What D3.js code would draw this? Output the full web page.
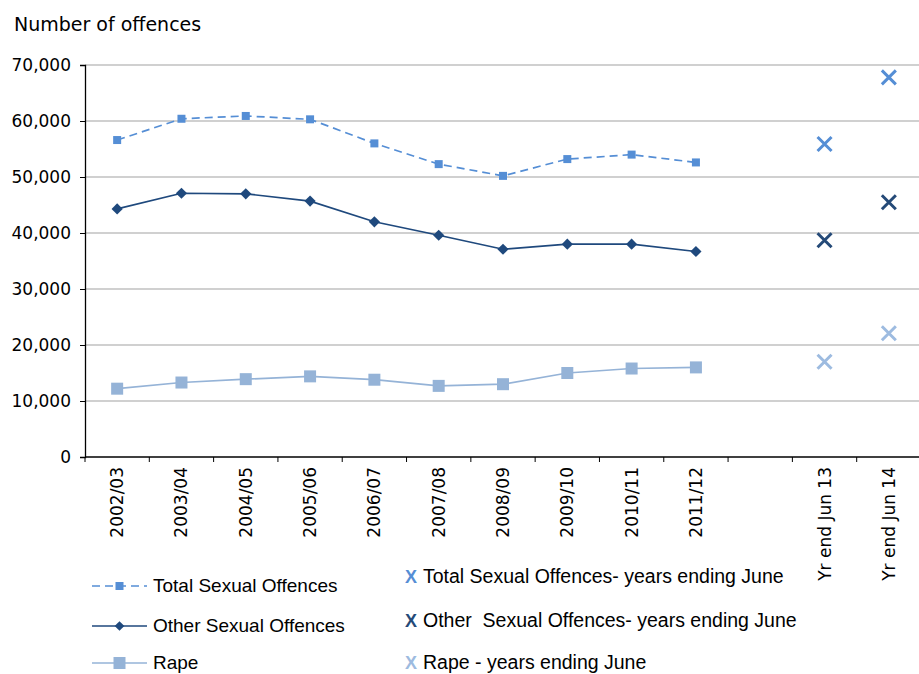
<!DOCTYPE html>
<html>
<head>
<meta charset="utf-8">
<script src="https://cdn.jsdelivr.net/npm/d3@7"></script>
<style>
  html, body { margin: 0; padding: 0; background: #fff; }
  svg { display: block; font-family: "Liberation Sans", Arial, sans-serif; }
</style>
</head>
<body>
<svg id="chart" width="919" height="674"></svg>
<script>
// ---- data ----
const categories = ["2002/03","2003/04","2004/05","2005/06","2006/07","2007/08","2008/09","2009/10","2010/11","2011/12","","Yr end Jun 13","Yr end Jun 14"];
const annualCats = ["2002/03","2003/04","2004/05","2005/06","2006/07","2007/08","2008/09","2009/10","2010/11","2011/12"];
const totalSexual = [56600, 60400, 60900, 60300, 56000, 52300, 50200, 53200, 54000, 52600];
const otherSexual = [44300, 47100, 47000, 45700, 42000, 39600, 37100, 38000, 38000, 36700];
const rape        = [12200, 13300, 13900, 14400, 13800, 12700, 13000, 15000, 15800, 16000];
const juneCats = ["Yr end Jun 13","Yr end Jun 14"];
const totalJune = [55900, 67800];
const otherJune = [38700, 45500];
const rapeJune  = [17000, 22100];
const yTicks = [0, 10000, 20000, 30000, 40000, 50000, 60000, 70000];
const yTitle = "Number of offences";
const legendLines = ["Total Sexual Offences", "Other Sexual Offences", "Rape"];
const legendJune = ["Total Sexual Offences- years ending June", "Other  Sexual Offences- years ending June", "Rape - years ending June"];

// ---- styles ----
const cTotal = "#558ED5", cOther = "#1F497D", cRape = "#95B3D7";
const cTotalX = "#558ED5", cOtherX = "#254A78", cRapeX = "#9DBBE0";
const wideFont = "DejaVu Sans, Verdana, sans-serif";

const svg = d3.select("#chart");
const pL = 85, pR = 921, pT = 65, pB = 457;

const x = d3.scaleBand().domain(categories.map((c,i)=>i)).range([pL, pR]).padding(0);
const xc = i => x(i) + x.bandwidth()/2;
const y = d3.scaleLinear().domain([0, 70000]).range([pB, pT]);

// gridlines
svg.append("g").selectAll("line").data(yTicks.filter(t=>t>0)).join("line")
  .attr("x1", pL).attr("x2", pR)
  .attr("y1", d=>y(d)).attr("y2", d=>y(d))
  .attr("stroke", "#C0C0C0").attr("stroke-width", 1.3);

// y axis
const yAxis = svg.append("g").attr("transform", `translate(${pL},0)`)
  .call(d3.axisLeft(y).tickValues(yTicks).tickFormat(d3.format(",")).tickSize(5).tickPadding(9));
yAxis.select(".domain").attr("stroke", "#000").attr("stroke-width", 1.3);
yAxis.selectAll(".tick line").attr("stroke", "#000");
yAxis.selectAll("text").attr("font-size", 17).attr("fill", "#000").attr("font-family", wideFont);

// x axis (ticks at band boundaries)
const xAxisG = svg.append("g");
xAxisG.append("line").attr("x1", pL).attr("x2", pR).attr("y1", pB).attr("y2", pB)
  .attr("stroke", "#000").attr("stroke-width", 1.3);
xAxisG.selectAll("line.tk").data(d3.range(categories.length+1)).join("line").attr("class","tk")
  .attr("x1", i => pL + i*x.step()).attr("x2", i => pL + i*x.step())
  .attr("y1", pB).attr("y2", pB+5).attr("stroke", "#000");
xAxisG.selectAll("text").data(categories).join("text")
  .attr("transform", (d,i) => `translate(${xc(i)+6},${pB+10}) rotate(-90)`)
  .attr("text-anchor", "end")
  .attr("font-size", 17).attr("font-family", wideFont).attr("fill", "#000")
  .text(d=>d);

// y title
svg.append("text").attr("x", 14).attr("y", 31).attr("font-size", 19).attr("font-family", wideFont)
  .attr("fill", "#000").text(yTitle);

// lines
const line = d3.line().x((d,i)=>xc(i)).y(d=>y(d));
svg.append("path").datum(totalSexual).attr("d", line).attr("fill","none")
  .attr("stroke", cTotal).attr("stroke-width", 1.7).attr("stroke-dasharray", "8,5");
svg.append("path").datum(otherSexual).attr("d", line).attr("fill","none")
  .attr("stroke", cOther).attr("stroke-width", 1.7);
svg.append("path").datum(rape).attr("d", line).attr("fill","none")
  .attr("stroke", cRape).attr("stroke-width", 1.7);

// markers
const sq = (sel, data, size, color) => sel.selectAll(null).data(data).join("rect")
  .attr("x", (d,i)=>xc(i)-size/2).attr("y", d=>y(d)-size/2)
  .attr("width", size).attr("height", size).attr("fill", color);
sq(svg.append("g"), totalSexual, 8, cTotal);
sq(svg.append("g"), rape, 12, cRape);
const diamond = d3.symbol(d3.symbolDiamond2 || d3.symbolDiamond, 80);
svg.append("g").selectAll("path").data(otherSexual).join("path")
  .attr("d", diamond)
  .attr("transform", (d,i)=>`translate(${xc(i)},${y(d)})`)
  .attr("fill", cOther);

// June crosses
function cross(g, cx, cy, s, color, w) {
  g.append("path").attr("d", `M${cx-s},${cy-s}L${cx+s},${cy+s}M${cx-s},${cy+s}L${cx+s},${cy-s}`)
    .attr("stroke", color).attr("stroke-width", w).attr("fill", "none");
}
const gx = svg.append("g");
const juneIdx = juneCats.map(c => categories.indexOf(c));
[[totalJune, cTotalX],[otherJune, cOtherX],[rapeJune, cRapeX]].forEach(([arr, col]) => {
  arr.forEach((v,k) => cross(gx, xc(juneIdx[k]), y(v), 7, col, 3));
});

// legend - left column
const lg = svg.append("g");
const lRows = [586, 626, 663];
const lStyles = [
  {c: cTotal, dash: "8,5", m: "sq", s: 8},
  {c: cOther, dash: null, m: "dia", s: 0},
  {c: cRape, dash: null, m: "sq", s: 12}
];
legendLines.forEach((t, k) => {
  const yy = lRows[k];
  lg.append("line").attr("x1", 92).attr("x2", 147).attr("y1", yy).attr("y2", yy)
    .attr("stroke", lStyles[k].c).attr("stroke-width", 1.7)
    .attr("stroke-dasharray", lStyles[k].dash);
  if (lStyles[k].m === "sq") {
    lg.append("rect").attr("x", 119.5 - lStyles[k].s/2).attr("y", yy - lStyles[k].s/2)
      .attr("width", lStyles[k].s).attr("height", lStyles[k].s).attr("fill", lStyles[k].c);
  } else {
    lg.append("path").attr("d", d3.symbol(d3.symbolDiamond2 || d3.symbolDiamond, 60))
      .attr("transform", `translate(119.5,${yy})`).attr("fill", lStyles[k].c);
  }
  lg.append("text").attr("x", 153).attr("y", yy + 6).attr("font-size", 19).attr("fill", "#000").text(t);
});

// legend - right column
const rRows = [577, 621, 663];
const rCols = [cTotalX, cOtherX, cRapeX];
legendJune.forEach((t, k) => {
  const yy = rRows[k];
  lg.append("text").attr("x", 405).attr("y", yy + 6).attr("font-size", 18).attr("font-weight", "bold")
    .attr("fill", rCols[k]).text("X");
  lg.append("text").attr("x", 423).attr("y", yy + 6).attr("font-size", 19.5).attr("fill", "#000")
    .style("white-space", "pre").text(t);
});
</script>
</body>
</html>
